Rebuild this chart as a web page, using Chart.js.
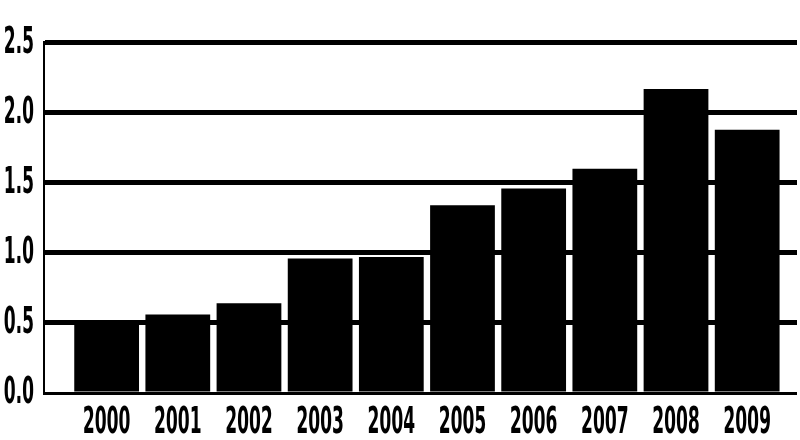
<!DOCTYPE html>
<html>
<head>
<meta charset="utf-8">
<script src="https://cdn.jsdelivr.net/npm/chart.js@4/dist/chart.umd.min.js"></script>
<style>
  html, body { margin: 0; padding: 0; background: #fff; }
  /* chart is laid out at half height and stretched back, which gives the tall narrow lettering */
  #chart { display: block; width: 800px !important; height: 440px !important; }
</style>
</head>
<body>
<canvas id="chart" width="800" height="220"></canvas>
<script>
// ===== Data =====
const years = [2000, 2001, 2002, 2003, 2004, 2005, 2006, 2007, 2008, 2009];
const values = [0.51, 0.56, 0.64, 0.96, 0.97, 1.34, 1.46, 1.60, 2.17, 1.88];
const yTicks = [0, 0.5, 1.0, 1.5, 2.0, 2.5];

const labelFont = {
  family: "'DejaVu Sans', sans-serif",
  size: 19,
  weight: "bold condensed"
};

// ===== Chart =====
new Chart(document.getElementById("chart"), {
  type: "bar",
  data: {
    labels: years,
    datasets: [{
      data: values,
      backgroundColor: "#000",
      borderWidth: 0,
      categoryPercentage: 1,
      barPercentage: 0.91
    }]
  },
  options: {
    responsive: false,
    devicePixelRatio: 2,
    animation: false,
    layout: { padding: { top: 21, right: 3, left: 0, bottom: 0 } },
    plugins: { legend: { display: false }, tooltip: { enabled: false } },
    scales: {
      x: {
        type: "linear",
        offset: false,
        min: 1999.12,
        max: 2009.70,
        grid: { display: false },
        border: { display: false },
        afterBuildTicks: s => { s.ticks = years.map(y => ({ value: y })); },
        afterFit: s => { s.height = 23.5; },
        ticks: {
          color: "#000",
          font: labelFont,
          padding: -4.5,
          autoSkip: false,
          maxRotation: 0,
          callback: v => String(v)
        }
      },
      y: {
        min: 0,
        max: 2.5,
        afterBuildTicks: s => { s.ticks = yTicks.map(v => ({ value: v })); },
        afterFit: s => { s.width = 44; },
        border: { display: true, color: "#000", width: 2 },
        grid: {
          color: "#000",
          lineWidth: c => (c.tick && c.tick.value === 0 ? 1.5 : 2.5),
          drawTicks: false
        },
        ticks: {
          color: "#000",
          font: labelFont,
          padding: 10,
          callback: v => v.toFixed(1)
        }
      }
    }
  }
});
</script>
</body>
</html>
